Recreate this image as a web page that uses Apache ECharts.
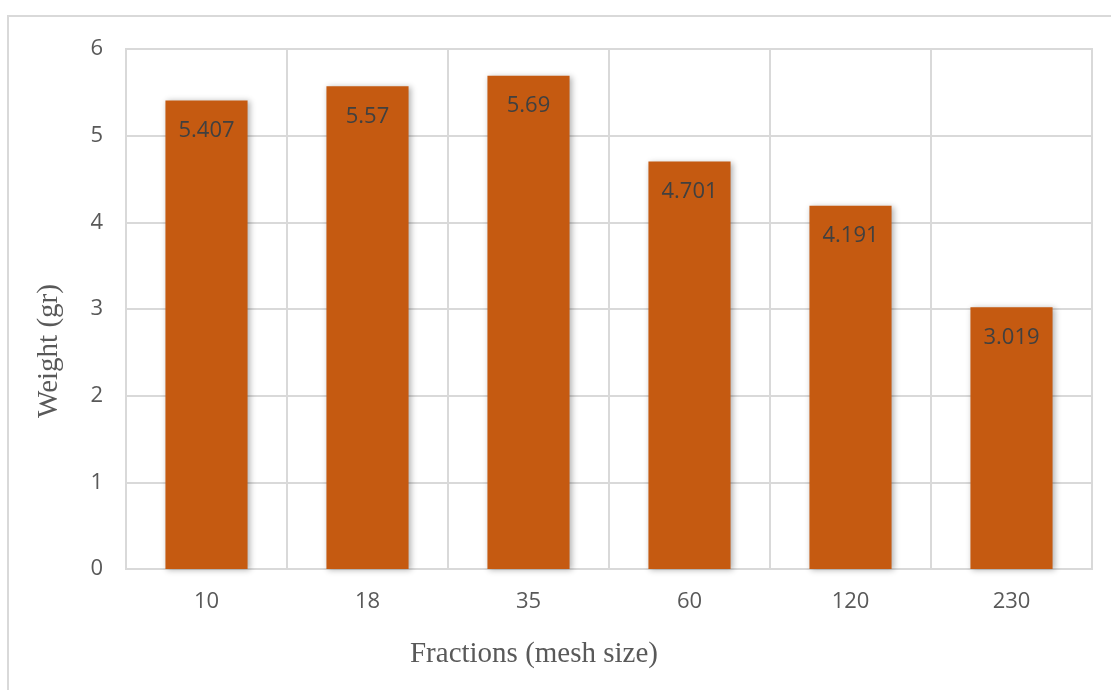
<!DOCTYPE html>
<html>
<head>
<meta charset="utf-8">
<script src="https://cdn.jsdelivr.net/npm/echarts@6/dist/echarts.min.js"></script>
<style>
  html, body { margin: 0; padding: 0; background: #fff; }
  #chart { width: 1111px; height: 690px; }
</style>
</head>
<body>
<div id="chart"></div>
<script>
// Sieve fractions and the weight retained on each mesh
const meshSizes = ['10', '18', '35', '60', '120', '230'];
const weights = [5.407, 5.57, 5.69, 4.701, 4.191, 3.019];
const yTicks = [0, 1, 2, 3, 4, 5, 6];

const gridColor = '#d9d9d9';
const textGray = '#595959';

const chart = echarts.init(document.getElementById('chart'));
chart.setOption({
  animation: false,
  backgroundColor: '#ffffff',
  grid: {
    left: 126, right: 19, top: 49, bottom: 121,
    show: true, borderColor: gridColor, borderWidth: 2
  },
  graphic: [
    {
      type: 'rect',
      shape: { x: 8, y: 16, width: 1300, height: 900 },
      style: { fill: 'none', stroke: gridColor, lineWidth: 2 },
      silent: true
    },
    {
      type: 'text',
      x: 534, y: 654,
      style: {
        text: 'Fractions (mesh size)',
        font: '29px "Liberation Serif", "Times New Roman", serif',
        fill: textGray,
        textAlign: 'center',
        textVerticalAlign: 'middle'
      }
    },
    {
      type: 'text',
      x: 49, y: 351,
      rotation: Math.PI / 2,
      style: {
        text: 'Weight (gr)',
        font: '29px "Liberation Serif", "Times New Roman", serif',
        fill: textGray,
        textAlign: 'center',
        textVerticalAlign: 'middle'
      }
    }
  ],
  xAxis: {
    type: 'category',
    data: meshSizes,
    boundaryGap: true,
    axisLine: { show: true, lineStyle: { color: gridColor, width: 2 } },
    axisTick: { show: false },
    splitLine: { show: true, lineStyle: { color: gridColor, width: 2 } },
    axisLabel: {
      color: textGray, fontSize: 22, fontFamily: '"Open Sans", sans-serif', margin: 22
    }
  },
  yAxis: {
    type: 'value',
    min: yTicks[0],
    max: yTicks[yTicks.length - 1],
    interval: 1,
    axisLine: { show: false },
    axisTick: { show: false },
    splitLine: { show: true, lineStyle: { color: gridColor, width: 2 } },
    axisLabel: {
      color: textGray, fontSize: 22, fontFamily: '"Open Sans", sans-serif', margin: 23
    }
  },
  series: [{
    type: 'bar',
    data: weights,
    barWidth: '51%',
    itemStyle: {
      color: '#c55a11',
      shadowColor: 'rgba(0,0,0,0.3)',
      shadowBlur: 6,
      shadowOffsetX: 2,
      shadowOffsetY: 1
    },
    label: {
      show: true,
      position: 'insideTop',
      distance: 19,
      color: '#404040',
      fontSize: 22,
      fontFamily: '"Open Sans", sans-serif',
      formatter: p => String(p.value)
    }
  }]
});
</script>
</body>
</html>
